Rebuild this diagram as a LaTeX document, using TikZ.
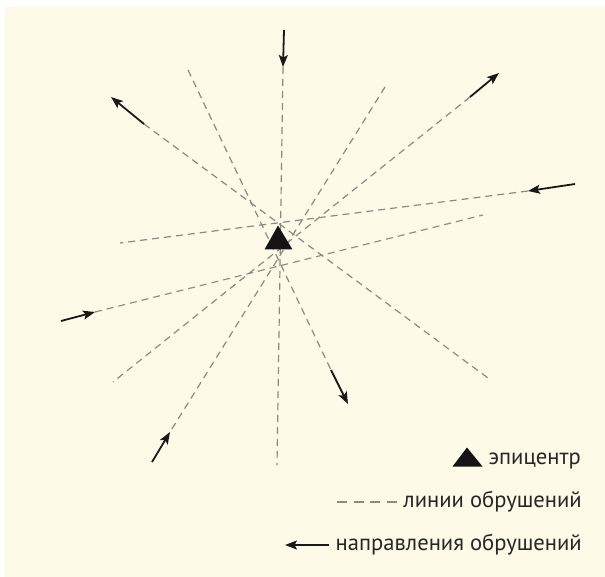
\documentclass[tikz,border=0pt]{standalone}
\usepackage{fontspec}
\setmainfont{PT Sans}
\usetikzlibrary{arrows.meta}
\definecolor{cream}{HTML}{FEFAE8}
\definecolor{dashgray}{HTML}{8A8A82}
\definecolor{txt}{HTML}{262626}
\tikzset{
  dline/.style={draw=dashgray, line width=1.2pt, dash pattern=on 7pt off 5pt},
  legdash/.style={draw=dashgray, line width=1.2pt, dash pattern=on 10pt off 6.5pt},
  arr/.style={draw=black!90, line width=1.8pt, -{Stealth[length=12pt,width=9pt,inset=2.5pt]}},
  legtext/.style={anchor=base east, font=\fontsize{22.6}{26}\selectfont, text=txt, inner sep=0pt},
}
\begin{document}
\begin{tikzpicture}[x=1pt,y=-1pt]
\useasboundingbox (0,0) rectangle (605,577);
\fill[white] (0,0) rectangle (605,577);
\fill[cream] (5,7) rectangle (605,577);
% dashed lines of collapse
\coordinate (a1) at (283,67);  \coordinate (b1) at (277,465);
\coordinate (a2) at (144,124); \coordinate (b2) at (488,378);
\coordinate (a3) at (188,70);  \coordinate (b3) at (331,370);
\coordinate (a4) at (385,87);  \coordinate (b4) at (170,432);
\coordinate (a5) at (470,97);  \coordinate (b5) at (113,382);
\coordinate (a6) at (528,191); \coordinate (b6) at (120,243);
\coordinate (a7) at (95,312);  \coordinate (b7) at (483,215);
\foreach \i in {1,...,7} {\draw[dline] (a\i) -- (b\i);}
% arrows (directions)
\coordinate (t1) at (284,30);
\coordinate (t2) at (111,97);
\coordinate (t3) at (348,404);
\coordinate (t4) at (152,462);
\coordinate (t5) at (499,73);
\coordinate (t6) at (575,184);
\coordinate (t7) at (61,321);
\draw[arr] (t1) -- (a1);
\draw[arr] (a2) -- (t2);
\draw[arr] (b3) -- (t3);
\draw[arr] (t4) -- (b4);
\draw[arr] (a5) -- (t5);
\draw[arr] (t6) -- (a6);
\draw[arr] (t7) -- (a7);
% epicentre
\coordinate (e1) at (264.5,249.5);
\coordinate (e2) at (278,225.5);
\coordinate (e3) at (292.5,249.5);
\fill[black!92] (e1) -- (e2) -- (e3) -- cycle;
% legend
\coordinate (l1) at (452.5,466.5);
\coordinate (l2) at (467,447.5);
\coordinate (l3) at (482.5,466.5);
\fill[black!92] (l1) -- (l2) -- (l3) -- cycle;
\node[legtext] (tepi) at (581,464) {эпицентр};
\coordinate (d1) at (337,502);
\coordinate (d2) at (397,502);
\draw[legdash] (d1) -- (d2);
\node[legtext] (tlin) at (582,507) {линии обрушений};
\coordinate (r1) at (329,545);
\coordinate (r2) at (285,545);
\draw[arr] (r1) -- (r2);
\node[legtext] (tdir) at (582,550) {направления обрушений};
\end{tikzpicture}
\end{document}
